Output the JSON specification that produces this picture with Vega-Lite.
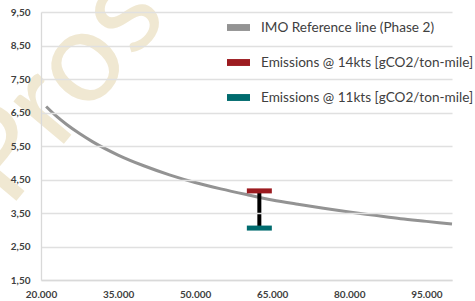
{
  "$schema": "https://vega.github.io/schema/vega-lite/v6.json",
  "width": 411,
  "height": 268,
  "autosize": {"type": "none"},
  "padding": {"left": 41, "top": 12, "right": 23, "bottom": 21},
  "background": "white",
  "config": {"view": {"stroke": null}, "font": "Lato"},
  "datasets": {
    "reference": [
      {"dwt": 21000, "value": 6.68},
      {"dwt": 23000, "value": 6.39},
      {"dwt": 25000, "value": 6.14},
      {"dwt": 27500, "value": 5.87},
      {"dwt": 30000, "value": 5.63},
      {"dwt": 35000, "value": 5.23},
      {"dwt": 40000, "value": 4.91},
      {"dwt": 45000, "value": 4.64},
      {"dwt": 50000, "value": 4.41},
      {"dwt": 55000, "value": 4.22},
      {"dwt": 60000, "value": 4.05},
      {"dwt": 65000, "value": 3.89},
      {"dwt": 70000, "value": 3.76},
      {"dwt": 75000, "value": 3.64},
      {"dwt": 80000, "value": 3.53},
      {"dwt": 85000, "value": 3.43},
      {"dwt": 90000, "value": 3.33},
      {"dwt": 95000, "value": 3.25},
      {"dwt": 100000, "value": 3.17}
    ],
    "emissions": [
      {"dwt": 62500, "value": 4.16, "series": "Emissions @ 14kts [gCO2/ton-mile]"},
      {"dwt": 62500, "value": 3.05, "series": "Emissions @ 11kts [gCO2/ton-mile]"}
    ],
    "range": [{"dwt": 62500, "value": 4.16, "low": 3.05}],
    "watermark": [{"text": "Pros", "dwt": 13700, "value": 3.6}]
  },
  "encoding": {
    "x": {
      "field": "dwt",
      "type": "quantitative",
      "scale": {"domain": [20000, 100000], "nice": false, "zero": false},
      "axis": {
        "title": null,
        "zindex": 1,
        "values": [20000, 35000, 50000, 65000, 80000, 95000],
        "labelExpr": "replace(format(datum.value, ',.0f'), ',', '.')",
        "labelFont": "Lato",
        "labelFontWeight": "bold",
        "labelFontSize": 10,
        "labelColor": "#404040",
        "labelFlush": false,
        "labelOverlap": false,
        "labelPadding": 9,
        "ticks": false,
        "grid": false,
        "domain": true,
        "domainColor": "#d9d9d9",
        "domainWidth": 1.3
      }
    },
    "y": {
      "field": "value",
      "type": "quantitative",
      "scale": {"domain": [1.5, 9.5], "nice": false, "zero": false},
      "axis": {
        "title": null,
        "zindex": 1,
        "values": [1.5, 2.5, 3.5, 4.5, 5.5, 6.5, 7.5, 8.5, 9.5],
        "labelExpr": "replace(format(datum.value, '.2f'), '.', ',')",
        "labelFont": "Lato",
        "labelFontWeight": "bold",
        "labelFontSize": 10,
        "labelColor": "#404040",
        "labelPadding": 11,
        "ticks": false,
        "grid": true,
        "gridColor": "#e0e0e0",
        "gridWidth": 1.3,
        "domain": true,
        "domainColor": "#d9d9d9",
        "domainWidth": 1.3
      }
    }
  },
  "layer": [
    {
      "data": {"name": "watermark"},
      "mark": {"type": "text", "angle": 310, "align": "left", "baseline": "alphabetic", "fontSize": 130, "font": "Lato", "color": "#f0e8d2", "clip": false},
      "encoding": {"text": {"field": "text"}}
    },
    {
      "data": {"name": "reference"},
      "mark": {"type": "line", "strokeWidth": 3, "interpolate": "monotone"},
      "encoding": {
        "color": {
          "datum": "IMO Reference line (Phase 2)",
          "type": "nominal",
          "title": null,
          "scale": {
            "domain": ["IMO Reference line (Phase 2)", "Emissions @ 14kts [gCO2/ton-mile]", "Emissions @ 11kts [gCO2/ton-mile]"],
            "range": ["#939393", "#9c1b20", "#006b6e"]
          },
          "legend": {
            "orient": "none",
            "legendX": 186,
            "legendY": 4,
            "title": null,
            "padding": 0,
            "symbolType": "M-1,-0.3H1V0.3H-1Z",
            "symbolSize": 529,
            "symbolStrokeWidth": 0,
            "labelFont": "Lato",
            "labelFontSize": 13.6,
            "labelColor": "#404040",
            "labelOffset": 11,
            "labelLimit": 300,
            "rowPadding": 16,
            "encode": {
              "symbols": {
                "update": {
                  "fill": {"scale": "color", "field": "value"},
                  "stroke": {"value": "transparent"},
                  "opacity": {"value": 1}
                }
              }
            }
          }
        }
      }
    },
    {
      "data": {"name": "range"},
      "mark": {"type": "rule", "color": "black", "strokeWidth": 4},
      "encoding": {"y2": {"field": "low"}}
    },
    {
      "data": {"name": "emissions"},
      "mark": {"type": "tick", "orient": "horizontal", "size": 25, "thickness": 5, "opacity": 1},
      "encoding": {"color": {"field": "series", "type": "nominal", "title": null}}
    }
  ]
}
